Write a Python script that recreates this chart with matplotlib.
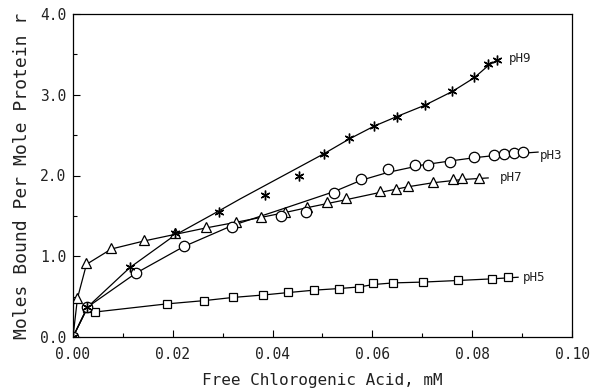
import matplotlib
matplotlib.use("Agg")
import matplotlib.pyplot as plt
from matplotlib.ticker import MultipleLocator

plt.rcParams['font.family'] = ['DejaVu Sans Mono', 'DejaVu Sans']

# ---- data ----
ph9_x = [0.0, 0.0029, 0.0114, 0.0204, 0.0292, 0.0384, 0.0452, 0.0503, 0.0553, 0.0603,
         0.0649, 0.0705, 0.0760, 0.0804, 0.0832, 0.0850]
ph9_y = [0.0, 0.37, 0.87, 1.29, 1.55, 1.76, 1.99, 2.27, 2.47, 2.61,
         2.72, 2.87, 3.05, 3.22, 3.38, 3.43]
ph9_fit_x = [0.0, 0.0029, 0.0114, 0.0204, 0.0292, 0.0335, 0.0455, 0.0503, 0.0553, 0.0603,
             0.0649, 0.0705, 0.0760, 0.0804, 0.0832, 0.0850]
ph9_fit_y = [0.0, 0.37, 0.86, 1.26, 1.56, 1.71, 2.11, 2.27, 2.45, 2.61,
             2.73, 2.87, 3.04, 3.21, 3.36, 3.43]

ph3_x = [0.0, 0.0029, 0.0126, 0.0222, 0.0319, 0.0417, 0.0467, 0.0523, 0.0577, 0.0632,
         0.0686, 0.0712, 0.0756, 0.0804, 0.0844, 0.0864, 0.0884, 0.0902]
ph3_y = [0.0, 0.37, 0.79, 1.13, 1.36, 1.50, 1.55, 1.78, 1.96, 2.08,
         2.13, 2.13, 2.17, 2.23, 2.25, 2.27, 2.28, 2.29]
ph3_fit_x = [0.0, 0.0029, 0.0126, 0.0222, 0.0319, 0.0417, 0.0523, 0.0577, 0.0632,
             0.0700, 0.0756, 0.0804, 0.0864, 0.0932]
ph3_fit_y = [0.0, 0.37, 0.79, 1.12, 1.38, 1.58, 1.80, 1.94, 2.04,
             2.13, 2.18, 2.22, 2.26, 2.29]

ph7_x = [0.0, 0.0009, 0.0027, 0.0077, 0.0143, 0.0204, 0.0266, 0.0326, 0.0376, 0.0424,
         0.0468, 0.0510, 0.0547, 0.0615, 0.0647, 0.0671, 0.0721, 0.0762, 0.0780, 0.0814]
ph7_y = [0.0, 0.48, 0.92, 1.10, 1.20, 1.29, 1.36, 1.42, 1.49, 1.55,
         1.61, 1.67, 1.72, 1.81, 1.83, 1.87, 1.92, 1.96, 1.97, 1.97]
ph7_fit_x = [0.0, 0.0009, 0.0027, 0.0077, 0.0143, 0.0204, 0.0266, 0.0326, 0.0376, 0.0424,
             0.0468, 0.0547, 0.0615, 0.0671, 0.0721, 0.0780, 0.0832]
ph7_fit_y = [0.0, 0.48, 0.90, 1.09, 1.19, 1.27, 1.35, 1.42, 1.48, 1.54,
             1.60, 1.70, 1.79, 1.86, 1.91, 1.95, 1.97]

ph5_x = [0.0, 0.0029, 0.0045, 0.0188, 0.0262, 0.0321, 0.0381, 0.0431, 0.0483, 0.0533,
         0.0574, 0.0602, 0.0642, 0.0701, 0.0772, 0.0840, 0.0872]
ph5_y = [0.0, 0.36, 0.31, 0.41, 0.45, 0.50, 0.52, 0.56, 0.58, 0.59,
         0.61, 0.67, 0.67, 0.68, 0.71, 0.72, 0.74]
ph5_fit_x = [0.0, 0.0029, 0.0045, 0.0188, 0.0262, 0.0321, 0.0381, 0.0431, 0.0483, 0.0533,
             0.0574, 0.0602, 0.0642, 0.0701, 0.0772, 0.0840, 0.0892]
ph5_fit_y = [0.0, 0.36, 0.31, 0.41, 0.45, 0.49, 0.52, 0.55, 0.58, 0.60,
             0.62, 0.65, 0.67, 0.68, 0.70, 0.72, 0.74]

series_labels = ["pH9", "pH3", "pH7", "pH5"]
label_pos_x = [0.0873, 0.0936, 0.0855, 0.0902]
label_pos_y = [3.45, 2.25, 1.97, 0.74]

# ---- figure ----
fig = plt.figure(figsize=(5.9, 3.9), dpi=100)
ax = fig.add_axes([0.1237, 0.1359, 0.8458, 0.8282])

lw = 0.9
mk = dict(mfc='white', mec='black', mew=0.9, linestyle='none')

ax.plot(ph9_fit_x, ph9_fit_y, color='black', lw=lw)
ax.plot(ph3_fit_x, ph3_fit_y, color='black', lw=lw)
ax.plot(ph7_fit_x, ph7_fit_y, color='black', lw=lw)
ax.plot(ph5_fit_x, ph5_fit_y, color='black', lw=lw)

ax.plot(ph5_x, ph5_y, marker='s', ms=6, **mk)
ax.plot(ph7_x, ph7_y, marker='^', ms=7.5, **mk)
ax.plot(ph3_x, ph3_y, marker='o', ms=7.5, **mk)
ax.plot(ph9_x, ph9_y, marker=(6, 2, 0), ms=7, color='black', mew=1.0, linestyle='none')

for t, lx, ly in zip(series_labels, label_pos_x, label_pos_y):
    ax.text(lx, ly, t, fontsize=9, va='center', ha='left', color='#222222')

ax.set_xlim(0.0, 0.10)
ax.set_ylim(0.0, 4.0)
ax.xaxis.set_major_locator(MultipleLocator(0.02))
ax.xaxis.set_minor_locator(MultipleLocator(0.01))
ax.yaxis.set_major_locator(MultipleLocator(1.0))
ax.yaxis.set_minor_locator(MultipleLocator(0.5))
ax.xaxis.set_major_formatter(plt.FuncFormatter(lambda v, p: f"{v:.2f}"))
ax.yaxis.set_major_formatter(plt.FuncFormatter(lambda v, p: f"{v:.1f}"))

ax.tick_params(which='both', direction='in', width=0.8, labelsize=10.5, labelcolor='#222222')
ax.tick_params(axis='x', which='major', length=5, pad=7)
ax.tick_params(axis='y', which='major', length=5, pad=5)
ax.tick_params(which='minor', length=3)
for s in ax.spines.values():
    s.set_linewidth(0.9)

ax.set_xlabel("Free Chlorogenic Acid, mM", fontsize=11.5, labelpad=8, color='#222222')
ax.set_ylabel("Moles Bound Per Mole Protein r", fontsize=13, labelpad=6, color='#222222')

fig.savefig("out.png", dpi=100)
